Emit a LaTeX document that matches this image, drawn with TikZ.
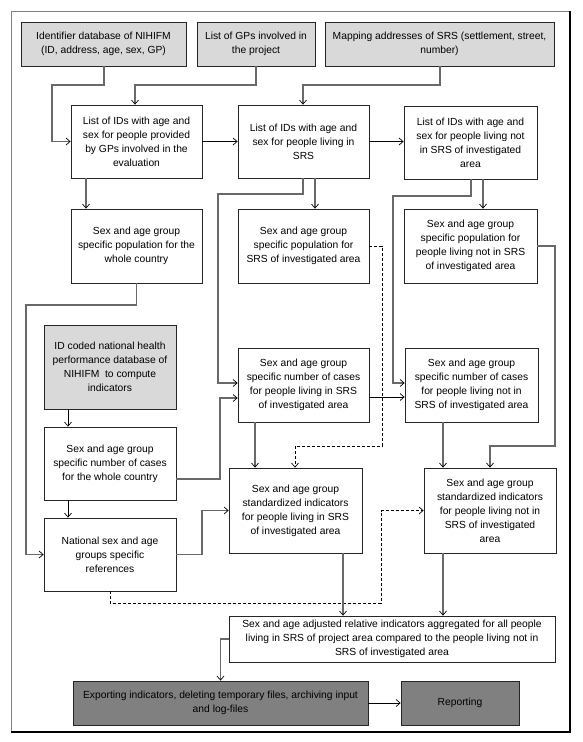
\documentclass[tikz,border=0pt]{standalone}
\usepackage{fontspec}
\setmainfont{Liberation Sans}
\usetikzlibrary{arrows.meta}
\definecolor{lgray}{RGB}{217,217,217}
\definecolor{dgray}{RGB}{128,128,128}
\definecolor{lnk}{RGB}{105,105,105}
\begin{document}
\begin{tikzpicture}[x=1pt,y=-1pt,
  box/.style={draw=black!85, line width=0.8pt, fill=white, align=center, inner sep=0pt,
    font=\fontsize{10.3}{14}\selectfont},
  lbox/.style={box, fill=lgray},
  dbox/.style={box, fill=dgray},
  gl/.style={draw=lnk, line width=1.3pt},
  bl/.style={draw=black, line width=0.8pt},
  dl/.style={draw=black, line width=0.8pt, dash pattern=on 3pt off 2pt},
  arr/.style={-{Straight Barb[length=4pt,width=7pt,line width=0.7pt,color=black]}}]
\useasboundingbox (0,0) rectangle (582,742);
% frame
\draw[line width=0.6pt, gray] (11,11) rectangle (570,732);
\draw[line width=2pt] (570,11) -- (570,732) -- (11,732);
% boxes
\node[lbox, minimum width=165pt, minimum height=44pt] (A) at (103.5,44) {Identifier database of NIHIFM\\(ID, address, age, sex, GP)};
\node[lbox, minimum width=118pt, minimum height=44pt] (B) at (256,44) {List of GPs involved in\\the project};
\node[lbox, minimum width=229pt, minimum height=44pt] (C) at (439.5,44) {Mapping addresses of SRS (settlement, street,\\number)};
\node[box, minimum width=131pt, minimum height=73pt] (D) at (136.5,141.5) {List of IDs with age and\\sex for people provided\\by GPs involved in the\\evaluation};
\node[box, minimum width=131pt, minimum height=73pt] (E) at (303.5,141.5) {List of IDs with age and\\sex for people living in\\SRS};
\node[box, minimum width=133pt, minimum height=73pt] (F) at (470.5,142.5) {List of IDs with age and\\sex for people living not\\in SRS of investigated\\area};
\node[box, minimum width=131pt, minimum height=74pt] (G) at (136.5,246) {Sex and age group\\specific population for the\\whole country};
\node[box, minimum width=131pt, minimum height=74pt] (H) at (303.5,246) {Sex and age group\\specific population for\\SRS of investigated area};
\node[box, minimum width=133pt, minimum height=74pt] (I) at (470.5,246) {Sex and age group\\specific population for\\people living not in SRS\\of investigated area};
\node[lbox, minimum width=132pt, minimum height=84pt] (J) at (110,367) {ID coded national health\\performance database of\\NIHIFM~ to compute\\indicators};
\node[box, minimum width=131pt, minimum height=74pt] (K) at (303.5,385) {Sex and age group\\specific number of cases\\for people living in SRS\\of investigated area};
\node[box, minimum width=133pt, minimum height=74pt] (L) at (471.5,385) {Sex and age group\\specific number of cases\\for people living not in\\SRS of investigated area};
\node[box, minimum width=132pt, minimum height=73pt] (M) at (110,463.5) {Sex and age group\\specific number of cases\\for the whole country};
\node[box, minimum width=132pt, minimum height=73pt] (N) at (110,554.5) {National sex and age\\groups specific\\references};
\node[box, minimum width=133pt, minimum height=85pt] (O) at (295.5,510.5) {Sex and age group\\standardized indicators\\for people living in SRS\\of investigated area};
\node[box, minimum width=132pt, minimum height=85pt] (P) at (490,510.5) {Sex and age group\\standardized indicators\\for people living not in\\SRS of investigated\\area};
\node[box, minimum width=326pt, minimum height=46pt] (Q) at (392,639) {Sex and age adjusted relative indicators aggregated for all people\\living in SRS of project area compared to the people living not in\\SRS of investigated area};
\node[dbox, minimum width=295pt, minimum height=44pt] (R) at (220.5,703) {Exporting indicators, deleting temporary files, archiving input\\and log-files};
\node[dbox, minimum width=118pt, minimum height=44pt] (S) at (460,703) {Reporting};
% connectors
\draw[gl,arr] (A.south -| 104,0) -- (104,85) -- (52,85) |- (D.west);
\draw[gl,arr] (B.south) -- (256,85) -- (135,85) -- (135,0 |- D.north);
\draw[gl,arr] (C.south -| 440,0) -- (440,85) -- (303,85) -- (303,0 |- E.north);
\draw[bl,arr] (D.east) -- (E.west);
\draw[bl,arr] (E.east) -- (E.east -| F.west);
\draw[gl,arr] (D.south -| 86,0) -- (86,0 |- G.north);
\draw[gl,arr] (E.south -| 303,0) -- (303,194) -- (218,194) -- (218,383) -- (K.west |- 0,383);
\draw[gl,arr] (E.south -| 315,0) -- (315,0 |- H.north);
\draw[gl,arr] (F.south -| 471,0) -- (471,196) -- (393,196) -- (393,383) -- (L.west |- 0,383);
\draw[gl,arr] (F.south -| 483,0) -- (483,0 |- I.north);
\draw[dl,arr] (H.east) -- (382,246) -- (382,446) -- (295,446) -- (295,0 |- O.north);
\draw[gl,arr] (I.east) -- (555,246) -- (555,446) -- (490,446) -- (490,0 |- P.north);
\draw[gl,arr] (G.south) -- (136.5,305) -- (26,305) |- (N.west);
\draw[bl,arr] (J.south -| 68,0) -- (68,0 |- M.north);
\draw[bl,arr] (M.south -| 68,0) -- (68,0 |- N.north);
\draw[gl,arr] (M.east |- 0,479) -- (220,479) -- (220,398) -- (K.west |- 0,398);
\draw[gl,arr] (N.east) -- (202,554.5) -- (202,510.5) -- (O.west);
\draw[gl,arr] (K.south -| 255,0) -- (255,0 |- O.north);
\draw[bl,arr] (K.east |- 0,397) -- (L.west |- 0,397);
\draw[gl,arr] (L.south -| 443,0) -- (443,0 |- P.north);
\draw[dl,arr] (N.south) -- (110,603) -- (381,603) -- (381,510.5) -- (P.west);
\draw[gl,arr] (O.south -| 343,0) -- (343,0 |- Q.north);
\draw[gl,arr] (P.south -| 443,0) -- (443,0 |- Q.north);
\draw[gl,arr] (Q.west) -- (220.5,639) -- (R.north);
\draw[bl,arr] (R.east) -- (S.west);
\end{tikzpicture}
\end{document}
